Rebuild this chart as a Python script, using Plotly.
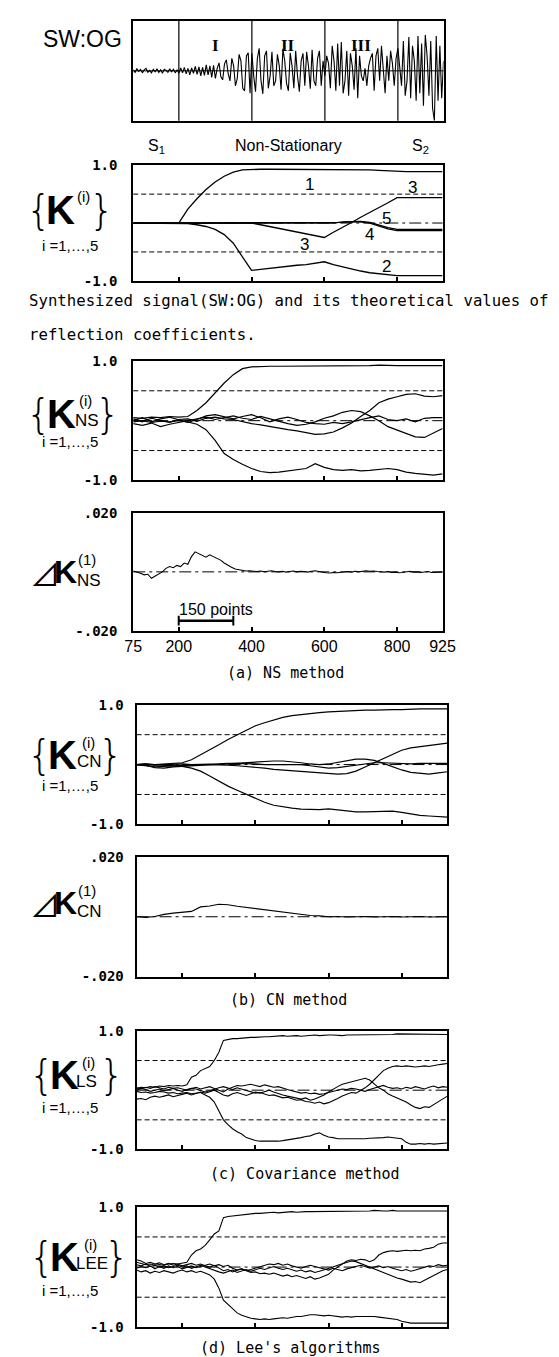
import numpy as np
import plotly.graph_objects as go

W, H = 559, 1357

# ---------------- data ----------------
X_RANGE = [75, 925]
SEG_BOUNDS = [200, 400, 600, 800]
ROMAN_LABELS = ["I", "II", "III"]
ROMAN_X = [300, 500, 700]
REGION_LABELS = ["S<sub>1</sub>", "Non-Stationary", "S<sub>2</sub>"]
REGION_X = [137.5, 500, 862.5]
X_TICKS = [75, 200, 400, 600, 800, 925]
X_TICK_TEXT = ["75", "200", "400", "600", "800", "925"]
K_TICKS = [-1.0, 1.0]
K_TICK_TEXT = ["-1.0", "1.0"]
DK_TICKS = [-0.02, 0.02]
DK_TICK_TEXT = ["-.020", ".020"]
REF_LEVELS = [0.5, -0.5]

# synthesized signal SW:OG, sampled every 5 points
t_sig = list(range(75, 926, 5))
SIG_S1 = [0.02, -0.03, 0.04, -0.01, 0.03, -0.04, 0.02, 0.05, -0.03, 0.01,
          -0.04, 0.03, -0.02, 0.04, -0.03, 0.02, -0.05, 0.03, 0.01, -0.03,
          0.04, -0.02, 0.03, -0.04, 0.02]
SIG_I = [-0.05, 0.06, -0.04, 0.07, -0.06, 0.05, -0.08, 0.06, -0.05, 0.09,
         -0.07, 0.08, -0.1, 0.07, -0.09, 0.12, -0.08, 0.1, -0.13, 0.11,
         -0.15, 0.05, 0.16, -0.12, -0.18, 0.14, 0.22, -0.05, -0.2, 0.25,
         0.1, -0.3, -0.15, 0.33, 0.2, -0.35, -0.4, 0.3, 0.36, -0.45]
SIG_II = [0.35, -0.1, -0.42, 0.25, 0.45, -0.2, -0.46, 0.3, 0.4, -0.35,
          -0.1, 0.38, -0.3, -0.2, 0.33, 0.1, -0.38, 0.44, 0.2, -0.25,
          -0.4, 0.36, 0.1, -0.35, 0.4, -0.1, -0.42, 0.2, 0.35, -0.3,
          0.38, 0.1, -0.36, 0.42, -0.2, -0.3, 0.25, 0.4, -0.3, 0.2]
SIG_III = [-0.1, 0.3, 0.15, -0.35, 0.5, 0.2, -0.4, 0.55, -0.3, 0.58,
           -0.45, -0.2, 0.4, -0.5, 0.35, 0.1, -0.38, 0.45, -0.55, 0.3,
           -0.1, -0.2, 0.05, -0.3, 0.1, 0.25, 0.35, -0.4, 0.3, 0.45,
           -0.2, 0.5, 0.1, -0.45, 0.3, -0.2, 0.4, 0.15, -0.3, 0.25]
SIG_S2 = [0.45, 0.1, -0.3, 0.6, -0.5, -0.2, 0.68, -0.55, 0.5, 0.2,
          -0.6, 0.7, -0.45, 0.55, -0.7, 0.72, 0.3, -0.5, 0.6, -0.75,
          -1.0, 0.7, -0.6, 0.5, -0.55, 0.2]

# theoretical reflection coefficients (every 25 points)
t25 = list(range(75, 926, 25))
K1_THEO = [0, 0, 0, 0, 0, 0, 0.24, 0.42, 0.58, 0.71, 0.81, 0.88, 0.92, 0.93,
           0.93, 0.93, 0.93, 0.93, 0.93, 0.93, 0.92, 0.92, 0.92, 0.92, 0.92,
           0.92, 0.92, 0.91, 0.9, 0.89, 0.89, 0.89, 0.89, 0.89, 0.89]
K2_THEO = [0, 0, 0, 0, 0, 0, -0.01, -0.03, -0.06, -0.11, -0.2, -0.35, -0.58,
           -0.82, -0.8, -0.78, -0.77, -0.75, -0.73, -0.72, -0.7, -0.67, -0.72,
           -0.76, -0.8, -0.83, -0.86, -0.88, -0.9, -0.91, -0.91, -0.91, -0.91,
           -0.91, -0.91]
K3_THEO = [0, 0, 0, 0, 0, 0, 0, 0, 0, 0, 0, 0, 0, 0, -0.03, -0.06, -0.09,
           -0.12, -0.16, -0.19, -0.22, -0.25, -0.16, -0.08, 0.01, 0.1, 0.18,
           0.27, 0.35, 0.44, 0.44, 0.44, 0.44, 0.44, 0.44]
K4_THEO = [0, 0, 0, 0, 0, 0, 0, 0, 0, 0, 0, 0, 0, 0, 0, 0, 0, 0, 0, 0, 0, 0,
           0, 0.01, 0.02, 0.02, 0.0, -0.05, -0.1, -0.13, -0.13, -0.13, -0.13,
           -0.13, -0.13]
K5_THEO = [0, 0, 0, 0, 0, 0, 0, 0, 0, 0, 0, 0, 0, 0, 0, 0, 0, 0, 0, 0, 0, 0,
           0, 0.02, 0.03, 0.03, 0.01, -0.04, -0.08, -0.11, -0.11, -0.11, -0.11,
           -0.11, -0.11]
THEO_LABELS = ["1", "3", "5", "4", "3", "2"]
THEO_LABEL_X = [558, 842, 772, 723, 545, 772]
THEO_LABEL_Y = [0.66, 0.62, 0.07, -0.2, -0.37, -0.76]

# (a) NS method (every 25 points)
NS1 = [0.05, 0.04, 0.06, 0.05, 0.07, 0.06, 0.07, 0.17, 0.3, 0.47,
       0.63, 0.77, 0.87, 0.9, 0.91, 0.91, 0.91, 0.91, 0.92, 0.91,
       0.92, 0.92, 0.92, 0.92, 0.92, 0.92, 0.92, 0.93, 0.92, 0.92,
       0.92, 0.92, 0.91, 0.91, 0.92]
NS2 = [-0.02, 0.0, -0.03, -0.01, -0.02, 0.0, -0.02, -0.06, -0.15, -0.33,
       -0.55, -0.65, -0.73, -0.8, -0.85, -0.87, -0.86, -0.84, -0.83, -0.8,
       -0.72, -0.78, -0.82, -0.83, -0.82, -0.84, -0.83, -0.81, -0.8, -0.82,
       -0.86, -0.88, -0.9, -0.91, -0.89]
NS3 = [0.03, -0.02, 0.04, 0.0, -0.03, 0.02, 0.03, -0.01, 0.04, 0.06,
       0.03, 0.02, -0.02, -0.05, -0.07, -0.1, -0.12, -0.15, -0.17, -0.2,
       -0.23, -0.22, -0.19, -0.12, -0.04, 0.07, 0.17, 0.3, 0.36, 0.4,
       0.44, 0.45, 0.41, 0.4, 0.42]
NS4 = [-0.05, -0.08, -0.04, -0.1, -0.06, -0.03, 0.0, 0.04, 0.06, 0.02,
       0.05, 0.08, 0.04, 0.02, 0.07, 0.03, -0.02, -0.05, -0.08, -0.06,
       -0.02, 0.04, 0.08, 0.14, 0.17, 0.15, 0.08, 0.0, -0.1, -0.16,
       -0.22, -0.27, -0.28, -0.2, -0.13]
NS5 = [0.0, 0.05, -0.02, 0.03, 0.06, 0.02, -0.03, 0.02, 0.08, 0.1,
       0.06, 0.03, 0.07, 0.1, 0.05, -0.02, 0.03, 0.06, 0.02, -0.03,
       -0.05, -0.06, -0.03, -0.05, -0.02, 0.02, 0.05, 0.08, 0.02, 0.0,
       0.03, -0.02, 0.04, 0.05, 0.05]
t10 = list(range(75, 926, 10))
DK_NS = [0.0003, 0.0000, -0.0005, -0.0010, -0.0008, -0.0022, -0.0015, -0.0006, 0.0000, 0.0012,
         0.0018, 0.0014, 0.0022, 0.0018, 0.0030, 0.0026, 0.0052, 0.0068, 0.0062, 0.0055,
         0.0050, 0.0058, 0.0052, 0.0048, 0.0040, 0.0030, 0.0022, 0.0016, 0.0010, 0.0008,
         0.0006, 0.0003, 0.0004, 0.0002, 0.0001, 0.0003, 0.0000, 0.0002, 0.0004, 0.0001,
         0.0000, 0.0002, -0.0001, 0.0001, 0.0003, 0.0000, 0.0002, 0.0001, -0.0001, 0.0002,
         0.0004, 0.0001, -0.0002, -0.0003, -0.0004, -0.0002, -0.0003, -0.0001, 0.0000, 0.0001,
         -0.0001, 0.0002, 0.0000, 0.0001, 0.0004, 0.0002, 0.0003, 0.0001, 0.0000, -0.0001,
         0.0001, -0.0002, -0.0001, -0.0003, -0.0002, 0.0000, 0.0002, -0.0001, 0.0000, -0.0002,
         -0.0001, 0.0001, -0.0002, -0.0001, -0.0002, -0.0001]
SCALE_BAR_START = 200
SCALE_BAR_LENGTH = 150
SCALE_BAR_LEVEL = -0.0166
SCALE_BAR_TEXT = "150 points"

# (b) CN method (every 25 points)
CN1 = [0.0, 0.01, 0.0, 0.01, 0.02, 0.03, 0.08, 0.16, 0.25, 0.33,
       0.42, 0.5, 0.58, 0.65, 0.7, 0.75, 0.79, 0.82, 0.84, 0.86,
       0.87, 0.88, 0.89, 0.9, 0.9, 0.91, 0.91, 0.92, 0.92, 0.92,
       0.93, 0.93, 0.93, 0.93, 0.93]
CN2 = [0.0, -0.01, 0.0, -0.01, -0.02, -0.03, -0.06, -0.11, -0.19, -0.28,
       -0.36, -0.43, -0.5, -0.57, -0.63, -0.68, -0.71, -0.73, -0.745, -0.75,
       -0.755, -0.74, -0.76, -0.78, -0.79, -0.79, -0.79, -0.78, -0.78, -0.8,
       -0.83, -0.85, -0.86, -0.87, -0.88]
CN3 = [0.0, -0.02, -0.04, -0.03, -0.02, -0.02, -0.01, 0.0, 0.0, 0.0,
       -0.01, -0.02, -0.03, -0.05, -0.06, -0.08, -0.09, -0.1, -0.11, -0.12,
       -0.14, -0.15, -0.16, -0.15, -0.11, -0.04, 0.03, 0.1, 0.18, 0.24,
       0.28, 0.3, 0.32, 0.34, 0.36]
CN4 = [0.0, -0.01, -0.05, -0.06, -0.04, -0.03, -0.02, -0.02, -0.01, 0.0,
       0.01, 0.02, 0.03, 0.04, 0.05, 0.06, 0.06, 0.05, 0.03, 0.01,
       0.0, 0.01, 0.04, 0.07, 0.09, 0.09, 0.07, 0.02, -0.04, -0.09,
       -0.13, -0.15, -0.16, -0.14, -0.12]
CN5 = [0.0, 0.01, -0.01, 0.0, 0.01, 0.01, 0.0, 0.0, 0.01, 0.01,
       0.02, 0.02, 0.01, 0.01, 0.0, 0.0, 0.01, 0.01, 0.0, -0.02,
       -0.04, -0.06, -0.05, -0.03, 0.0, 0.02, 0.03, 0.03, 0.02, 0.01,
       0.01, 0.02, 0.02, 0.02, 0.02]
DK_CN = [0.0000, -0.0002, 0.0001, 0.0008, 0.0012, 0.0014, 0.0018, 0.0033, 0.0036, 0.0042,
         0.0040, 0.0035, 0.0031, 0.0027, 0.0023, 0.0019, 0.0015, 0.0010, 0.0006, 0.0004,
         0.0003, 0.0000, 0.0001, -0.0001, 0.0000, 0.0001, -0.0001, 0.0000, 0.0001, -0.0001,
         0.0000, 0.0001, -0.0001, 0.0000, 0.0000]

# (c) covariance method and (d) Lee's algorithms (every 12.5 points)
t12 = list(np.linspace(75, 925, 69))
LS1 = [0.03, 0.05, 0.04, 0.06, 0.05, 0.07, 0.06, 0.08, 0.07, 0.08,
       0.07, 0.09, 0.22, 0.25, 0.33, 0.37, 0.4, 0.5, 0.64, 0.84,
       0.86, 0.87, 0.87, 0.88, 0.88, 0.89, 0.89, 0.9, 0.9, 0.9,
       0.91, 0.91, 0.92, 0.91, 0.92, 0.92, 0.91, 0.92, 0.92, 0.93,
       0.92, 0.93, 0.93, 0.93, 0.92, 0.92, 0.93, 0.93, 0.93, 0.94,
       0.94, 0.94, 0.93, 0.94, 0.94, 0.94, 0.94, 0.95, 0.95, 0.94,
       0.94, 0.95, 0.95, 0.94, 0.95, 0.95, 0.94, 0.94, 0.94]
LS2 = [-0.02, -0.04, -0.03, -0.05, -0.04, -0.02, -0.03, -0.05, -0.04, -0.06,
       -0.05, -0.04, -0.06, -0.05, -0.04, -0.08, -0.12, -0.2, -0.36, -0.5,
       -0.58, -0.65, -0.7, -0.74, -0.8, -0.83, -0.85, -0.86, -0.86, -0.87,
       -0.86, -0.86, -0.85, -0.84, -0.83, -0.82, -0.8, -0.78, -0.77, -0.74,
       -0.72, -0.76, -0.79, -0.8, -0.82, -0.82, -0.82, -0.83, -0.83, -0.83,
       -0.82, -0.81, -0.81, -0.8, -0.8, -0.79, -0.8, -0.8, -0.82, -0.88,
       -0.91, -0.91, -0.9, -0.91, -0.9, -0.91, -0.9, -0.9, -0.89]
LS3 = [0.0, 0.03, 0.01, -0.02, 0.0, 0.02, -0.01, 0.01, 0.03, 0.0,
       -0.02, 0.01, 0.03, 0.02, 0.0, -0.03, -0.01, 0.02, 0.04, 0.06,
       0.03, 0.01, 0.04, 0.02, 0.0, -0.03, -0.05, -0.04, -0.07, -0.09,
       -0.08, -0.11, -0.13, -0.12, -0.15, -0.17, -0.16, -0.19, -0.2, -0.22,
       -0.2, -0.23, -0.21, -0.18, -0.14, -0.1, -0.07, -0.04, -0.05, -0.01,
       0.04, 0.1, 0.18, 0.26, 0.33, 0.37, 0.4, 0.41, 0.4, 0.41,
       0.4, 0.39, 0.4, 0.41, 0.4, 0.42, 0.43, 0.44, 0.45]
LS4 = [-0.15, -0.14, -0.16, -0.12, -0.1, -0.12, -0.1, -0.08, -0.11, -0.09,
       -0.07, -0.05, -0.08, -0.06, -0.03, -0.05, -0.02, 0.0, -0.04, -0.08,
       -0.1, -0.06, -0.04, -0.07, -0.09, -0.06, -0.03, -0.05, -0.02, 0.0,
       -0.03, -0.06, -0.08, -0.1, -0.12, -0.13, -0.15, -0.13, -0.17, -0.15,
       -0.12, -0.08, -0.03, 0.02, 0.06, 0.1, 0.12, 0.14, 0.17, 0.19,
       0.2, 0.17, 0.1, 0.04, 0.0, -0.06, -0.1, -0.13, -0.16, -0.2,
       -0.25, -0.29, -0.31, -0.28, -0.29, -0.24, -0.2, -0.14, -0.1]
LS5 = [0.04, 0.02, 0.05, 0.03, 0.06, 0.04, 0.02, 0.05, 0.03, 0.04,
       0.02, 0.0, 0.03, 0.05, 0.02, 0.04, 0.06, 0.03, 0.0, -0.03,
       0.02, 0.05, 0.08, 0.07, 0.09, 0.1, 0.08, 0.06, 0.09, 0.07,
       0.05, 0.06, 0.03, 0.01, -0.01, -0.03, -0.05, -0.04, -0.06, -0.05,
       -0.07, -0.06, -0.04, -0.02, 0.0, 0.02, 0.01, 0.03, 0.02, 0.0,
       -0.02, 0.01, 0.03, 0.06, 0.08, 0.05, 0.03, 0.04, 0.02, 0.05,
       0.03, 0.06, 0.04, 0.02, 0.05, 0.07, 0.04, 0.06, 0.05]
LEE1 = [0.08, 0.06, 0.04, 0.05, 0.03, 0.04, 0.03, 0.05, 0.06, 0.05,
        0.07, 0.08, 0.2, 0.27, 0.3, 0.36, 0.45, 0.55, 0.6, 0.82,
        0.84, 0.85, 0.86, 0.87, 0.87, 0.88, 0.89, 0.89, 0.9, 0.9,
        0.91, 0.9, 0.91, 0.91, 0.92, 0.91, 0.92, 0.92, 0.92, 0.92,
        0.93, 0.92, 0.93, 0.93, 0.92, 0.93, 0.93, 0.93, 0.92, 0.93,
        0.93, 0.93, 0.94, 0.93, 0.93, 0.93, 0.94, 0.93, 0.93, 0.93,
        0.93, 0.94, 0.93, 0.93, 0.93, 0.93, 0.93, 0.93, 0.93]
LEE2 = [-0.05, -0.08, -0.06, -0.1, -0.07, -0.09, -0.06, -0.08, -0.1, -0.07,
        -0.05, -0.08, -0.06, -0.09, -0.07, -0.1, -0.13, -0.2, -0.35, -0.55,
        -0.62, -0.7, -0.76, -0.8, -0.83, -0.85, -0.86, -0.87, -0.86, -0.87,
        -0.86, -0.85, -0.84, -0.85, -0.83, -0.82, -0.82, -0.8, -0.79, -0.79,
        -0.8, -0.81, -0.8, -0.81, -0.82, -0.83, -0.82, -0.83, -0.82, -0.82,
        -0.81, -0.82, -0.82, -0.83, -0.84, -0.84, -0.85, -0.87, -0.9, -0.92,
        -0.93, -0.93, -0.93, -0.92, -0.93, -0.93, -0.92, -0.93, -0.93]
LEE3 = [0.12, 0.1, 0.06, 0.08, 0.05, 0.07, 0.04, 0.06, 0.03, 0.05,
        0.02, 0.04, 0.06, 0.03, 0.05, 0.02, 0.0, 0.03, -0.02, -0.06,
        -0.04, -0.08, -0.05, -0.03, -0.06, -0.09, -0.08, -0.11, -0.1, -0.12,
        -0.1, -0.13, -0.15, -0.13, -0.16, -0.14, -0.17, -0.19, -0.16, -0.2,
        -0.18, -0.15, -0.12, -0.05, 0.0, 0.06, 0.1, 0.12, 0.11, 0.13,
        0.12, 0.09, 0.12, 0.2, 0.24, 0.26, 0.27, 0.26, 0.27, 0.28,
        0.27, 0.28, 0.27, 0.3, 0.31, 0.33, 0.38, 0.4, 0.4]
LEE4 = [0.04, 0.02, 0.05, 0.01, 0.03, 0.0, 0.02, -0.01, 0.01, 0.03,
        0.0, 0.02, -0.02, 0.01, 0.03, 0.0, -0.03, -0.05, -0.08, -0.1,
        -0.07, -0.05, -0.09, -0.06, -0.04, -0.07, -0.05, -0.02, -0.04, -0.01,
        0.01, -0.02, -0.04, -0.02, -0.05, -0.07, -0.05, -0.08, -0.06, -0.09,
        -0.07, -0.05, -0.02, 0.0, 0.03, 0.05, 0.08, 0.1, 0.09, 0.06,
        0.02, 0.0, -0.03, -0.06, -0.1, -0.13, -0.15, -0.18, -0.2, -0.22,
        -0.25, -0.24, -0.26, -0.22, -0.18, -0.14, -0.1, -0.06, -0.04]
LEE5 = [-0.02, 0.01, -0.01, 0.02, -0.03, 0.01, -0.02, 0.02, -0.01, 0.01,
        -0.03, 0.0, 0.02, -0.01, 0.01, 0.03, 0.05, 0.02, 0.04, 0.01,
        0.03, -0.02, -0.05, -0.03, -0.06, -0.04, -0.02, 0.01, 0.03, 0.05,
        0.04, 0.06, 0.03, 0.05, 0.02, 0.0, -0.02, 0.01, 0.03, 0.01,
        -0.01, -0.03, -0.05, -0.02, -0.04, -0.06, -0.03, -0.01, 0.01, 0.03,
        0.01, -0.02, 0.0, 0.02, -0.01, 0.01, -0.02, -0.04, -0.06, -0.04,
        -0.07, -0.05, -0.03, -0.01, 0.02, 0.01, 0.04, 0.02, 0.03]

CAPTION_MAIN = ["Synthesized signal(SW:OG) and its theoretical values of",
                "reflection coefficients."]
METHOD_CAPTIONS = ["(a) NS method", "(b) CN method",
                   "(c) Covariance method", "(d) Lee's algorithms"]

# ---------------- layout helpers ----------------
SANS = "Liberation Sans"
SERIF = "Liberation Serif"
MONO = "DejaVu Sans Mono"
TRI = "Noto Sans CJK JP"
INK = "black"
REF_DASH = "5px,3px"
ZERO_DASH = "12px,4px,3px,4px"

# panel boxes in pixels: (x0, x1, y_top, y_bottom)
PANELS = [
    (121, 444, 5, 106),        # 0 signal
    (121, 443, 151, 268),      # 1 theoretical K
    (121, 443, 349, 470),      # 2 NS
    (121, 443, 503, 622),      # 3 dK NS
    (124.5, 448, 697, 818),    # 4 CN
    (124.5, 448, 851, 972),    # 5 dK CN
    (124.5, 448, 1027, 1147),  # 6 LS
    (124.5, 448, 1205, 1327),  # 7 LEE
]


def ax_ids(i):
    n = i + 1
    return ("x" if n == 1 else f"x{n}"), ("y" if n == 1 else f"y{n}")


fig = go.Figure()
shapes = []
annotations = []


def px_x(px):
    return px / W


def px_y(py):
    return 1 - py / H


def text(s, px, py, size, family=SANS, weight="normal", xanchor="center", yanchor="middle"):
    annotations.append(dict(text=s, x=px_x(px), y=px_y(py), xref="paper", yref="paper",
                            showarrow=False, xanchor=xanchor, yanchor=yanchor,
                            borderpad=0,
                            font=dict(size=size, family=family, color=INK, weight=weight)))


def add_line(i, xs, ys, width=1.2):
    xid, yid = ax_ids(i)
    fig.add_trace(go.Scatter(x=xs, y=ys, mode="lines", xaxis=xid, yaxis=yid,
                             line=dict(color=INK, width=width), hoverinfo="skip",
                             showlegend=False))


layout_axes = {}
for i, (x0, x1, y0, y1) in enumerate(PANELS):
    xid, yid = ax_ids(i)
    xname = "xaxis" if i == 0 else f"xaxis{i + 1}"
    yname = "yaxis" if i == 0 else f"yaxis{i + 1}"
    is_dk = i in (3, 5)
    xa = dict(domain=[px_x(x0), px_x(x1)], range=X_RANGE, anchor=yid,
              showline=True, mirror=True, linewidth=2, linecolor=INK,
              showgrid=False, zeroline=False, fixedrange=True,
              ticks="inside", tickvals=SEG_BOUNDS, ticklen=4, tickwidth=1.5,
              tickcolor=INK, showticklabels=False)
    if i == 0:
        xa.update(ticks="", tickvals=[])
    if i == 3:
        xa.update(tickvals=X_TICKS, ticktext=X_TICK_TEXT, showticklabels=True,
                  tickfont=dict(family=SANS, size=16, color=INK))
    standoff = 11 if i <= 3 else 8
    ya = dict(domain=[px_y(y1), px_y(y0)], anchor=xid,
              showline=True, mirror=True, linewidth=2, linecolor=INK,
              showgrid=False, zeroline=False, fixedrange=True, ticks="",
              ticklabelstandoff=standoff,
              tickfont=dict(family=MONO, size=14, color=INK, weight="bold"))
    if i == 0:
        ya.update(range=[-1.0, 1.0], tickvals=[], showticklabels=False)
    elif is_dk:
        ya.update(range=[-0.02, 0.02], tickvals=DK_TICKS, ticktext=DK_TICK_TEXT)
    else:
        ya.update(range=[-1.0, 1.0], tickvals=K_TICKS, ticktext=K_TICK_TEXT)
    layout_axes[xname] = xa
    layout_axes[yname] = ya

    # reference lines
    if i == 0:
        shapes.append(dict(type="line", xref=f"{xid} domain", yref=yid, x0=0, x1=1,
                           y0=0, y1=0, line=dict(color=INK, width=1)))
        for b in SEG_BOUNDS:
            shapes.append(dict(type="line", xref=xid, yref=f"{yid} domain", x0=b, x1=b,
                               y0=0, y1=1, line=dict(color=INK, width=1.2)))
    elif is_dk:
        shapes.append(dict(type="line", xref=f"{xid} domain", yref=yid, x0=0, x1=1,
                           y0=0, y1=0, line=dict(color=INK, width=1, dash=ZERO_DASH)))
    else:
        for lvl in REF_LEVELS:
            shapes.append(dict(type="line", xref=f"{xid} domain", yref=yid, x0=0, x1=1,
                               y0=lvl, y1=lvl, line=dict(color=INK, width=1, dash=REF_DASH)))
        shapes.append(dict(type="line", xref=f"{xid} domain", yref=yid, x0=0, x1=1,
                           y0=0, y1=0, line=dict(color=INK, width=1, dash=ZERO_DASH)))

# ---------------- traces ----------------
add_line(0, t_sig, SIG_S1 + SIG_I + SIG_II + SIG_III + SIG_S2, width=1.1)
for k in (K1_THEO, K2_THEO, K3_THEO, K4_THEO, K5_THEO):
    add_line(1, t25, k, width=1.3)
for k in (NS1, NS2, NS3, NS4, NS5):
    add_line(2, t25, k)
add_line(3, t10, DK_NS, width=1.1)
for k in (CN1, CN2, CN3, CN4, CN5):
    add_line(4, t25, k)
add_line(5, t25, DK_CN, width=1.1)
for k in (LS1, LS2, LS3, LS4, LS5):
    add_line(6, t12, k, width=1.1)
for k in (LEE1, LEE2, LEE3, LEE4, LEE5):
    add_line(7, t12, k, width=1.1)

# scale bar "150 points"
fig.add_trace(go.Scatter(x=[SCALE_BAR_START, SCALE_BAR_START + SCALE_BAR_LENGTH],
                         y=[SCALE_BAR_LEVEL, SCALE_BAR_LEVEL], mode="lines+markers",
                         xaxis="x4", yaxis="y4", hoverinfo="skip", showlegend=False,
                         line=dict(color=INK, width=2.5),
                         marker=dict(symbol="line-ns-open", size=7,
                                     line=dict(color=INK, width=2))))
annotations.append(dict(text=SCALE_BAR_TEXT, x=SCALE_BAR_START - 4, y=SCALE_BAR_LEVEL,
                        xref="x4", yref="y4", xanchor="left", yanchor="bottom",
                        yshift=1, showarrow=False,
                        font=dict(family=SANS, size=16, color=INK)))

# ---------------- text ----------------
text("SW:OG", 68, 23, 23, SANS)
for lab, xv in zip(ROMAN_LABELS, ROMAN_X):
    annotations.append(dict(text=lab, x=xv, y=px_y(18), xref="x", yref="paper",
                            showarrow=False, font=dict(family=SERIF, size=17, color=INK,
                                                       weight="bold")))
for lab, xv in zip(REGION_LABELS, REGION_X):
    annotations.append(dict(text=lab, x=xv, y=px_y(120), xref="x", yref="paper",
                            showarrow=False, font=dict(family=SANS, size=16, color=INK)))
for lab, xv, yv in zip(THEO_LABELS, THEO_LABEL_X, THEO_LABEL_Y):
    annotations.append(dict(text=lab, x=xv, y=yv, xref="x2", yref="y2",
                            showarrow=False, font=dict(family=SANS, size=17, color=INK)))


def k_label(cx_brace_l, cx_k, cx_sup, cx_sub, cx_brace_r, cy, sup_y, sub_y, sub, row_y):
    text("{", cx_brace_l, cy, 40, "DejaVu Sans", weight=200)
    text("K", cx_k, cy, 40, SANS, weight="bold")
    text("(i)", cx_sup, sup_y, 15, SANS)
    if sub:
        text(sub, cx_sub, sub_y, 17, SANS, xanchor="left")
    text("}", cx_brace_r, cy, 40, "DejaVu Sans", weight=200)
    text("i =1,…,5", 55, row_y, 15, SANS)


k_label(22, 45, 69, 0, 88, 196, 183, 0, "", 232)
k_label(22, 46, 71, 59, 94, 403, 389, 409, "NS", 431)
k_label(23, 47, 74, 61, 97, 748, 735, 754, "CN", 779)
k_label(26, 49, 74, 60, 98, 1072, 1059, 1078, "LS", 1105)
k_label(26, 49, 76, 60, 104, 1256, 1243, 1262, "LEE", 1290)


def dk_label(cy, sub):
    text("⊿", 29, cy + 1, 30, TRI)
    text("K", 51, cy, 32, SANS, weight="bold")
    text("(1)", 73, cy - 13, 15, SANS)
    text(sub, 61, cy + 8, 17, SANS, xanchor="left")


dk_label(563, "NS")
dk_label(898, "CN")

text(CAPTION_MAIN[0], 11, 288, 15.7, MONO, xanchor="left")
text(CAPTION_MAIN[1], 11, 322, 15.7, MONO, xanchor="left")
text(METHOD_CAPTIONS[0], 280, 665, 15, MONO)
text(METHOD_CAPTIONS[1], 283, 996, 15, MONO)
text(METHOD_CAPTIONS[2], 300, 1172, 15, MONO)
text(METHOD_CAPTIONS[3], 285, 1348, 15, MONO)

fig.update_layout(width=W, height=H, margin=dict(l=0, r=0, t=0, b=0),
                  paper_bgcolor="white", plot_bgcolor="white", showlegend=False,
                  font=dict(family=SANS, color=INK),
                  shapes=shapes, annotations=annotations, **layout_axes)

fig.write_html("out.html")
